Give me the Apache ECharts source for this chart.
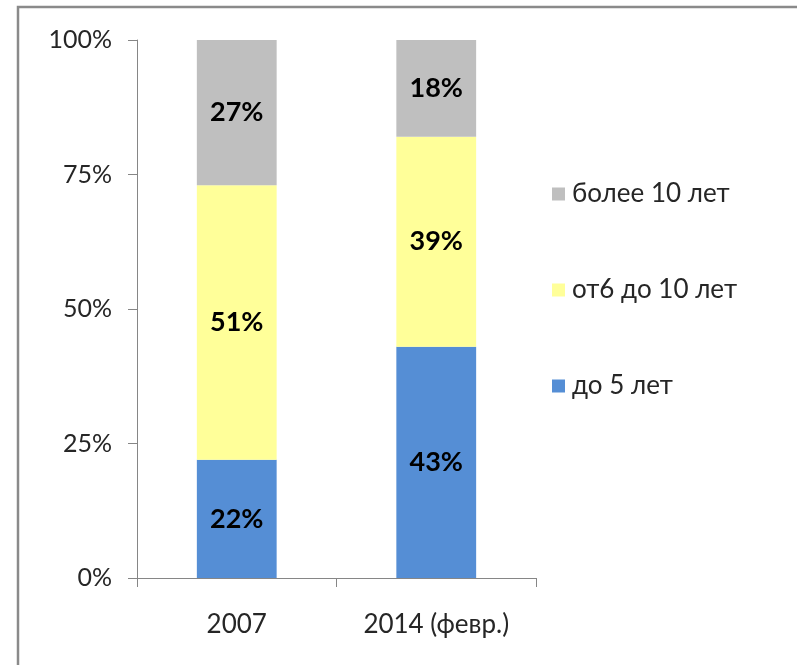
<!DOCTYPE html>
<html>
<head>
<meta charset="utf-8">
<script src="https://cdn.jsdelivr.net/npm/echarts@6/dist/echarts.min.js"></script>
<style>
  html, body { margin: 0; padding: 0; background: #fff; }
  #chart { width: 797px; height: 665px; }
</style>
</head>
<body>
<div id="chart"></div>
<script>
// Categories (x axis) and shares per length-of-service group, in percent
const categories = ['2007', '2014 (февр.)'];
const upTo5 = [22, 43];
const from6to10 = [51, 39];
const over10 = [27, 18];
const yTicks = [0, 25, 50, 75, 100];

const seriesNames = ['до 5 лет', 'от6 до 10 лет', 'более 10 лет'];
const seriesColors = ['#558ED5', '#FFFF99', '#BFBFBF'];
const seriesData = [upTo5, from6to10, over10];

const font = 'Lato, "Open Sans", sans-serif';
const chart = echarts.init(document.getElementById('chart'), null, { renderer: 'canvas' });

chart.setOption({
  animation: false,
  backgroundColor: '#ffffff',
  textStyle: { fontFamily: font },
  graphic: [{
    type: 'rect',
    shape: { x: 18, y: 7, width: 900, height: 900 },
    style: { fill: 'none', stroke: '#8a8a8a', lineWidth: 2.5 },
    silent: true
  }],
  grid: { left: 137, right: 261, top: 40, bottom: 87 },
  legend: {
    orient: 'vertical',
    left: 547,
    top: 176,
    itemWidth: 13,
    itemHeight: 13,
    itemGap: 70,
    icon: 'rect',
    data: ['более 10 лет', 'от6 до 10 лет', 'до 5 лет'],
    textStyle: { fontSize: 26, color: '#262626', fontFamily: font, padding: [0, 0, 0, 2] }
  },
  xAxis: {
    type: 'category',
    data: categories,
    axisLine: { lineStyle: { color: '#868686', width: 1 } },
    axisTick: { show: true, length: 9, lineStyle: { color: '#868686' } },
    axisLabel: { fontSize: 26, color: '#262626', margin: 34, fontFamily: font }
  },
  yAxis: {
    type: 'value',
    min: yTicks[0],
    max: yTicks[yTicks.length - 1],
    interval: 25,
    splitLine: { show: false },
    axisLine: { show: true, lineStyle: { color: '#868686', width: 1 } },
    axisTick: { show: true, length: 9, lineStyle: { color: '#868686' } },
    axisLabel: { fontSize: 25, color: '#262626', margin: 25, fontFamily: font, formatter: v => v + '%' }
  },
  series: seriesNames.map((name, i) => ({
    name: name,
    type: 'bar',
    stack: 'total',
    barWidth: '40%',
    data: seriesData[i],
    itemStyle: { color: seriesColors[i] },
    label: {
      show: true,
      position: 'inside',
      formatter: p => p.value + '%',
      fontSize: 27,
      fontWeight: 'bold',
      color: '#000',
      fontFamily: font
    }
  }))
});
</script>
</body>
</html>
